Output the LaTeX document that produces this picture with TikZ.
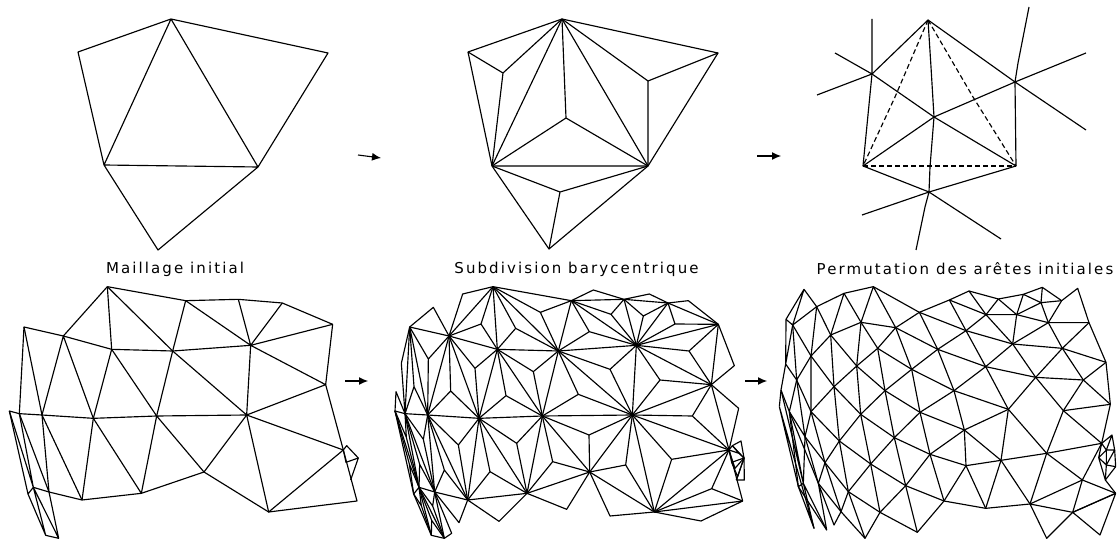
\documentclass[tikz,border=0pt]{standalone}
\usepackage{fontspec}
\usetikzlibrary{arrows.meta}
\newfontfamily\legendfont[LetterSpace=14]{DejaVu Sans}
% vertices and edges of the coarse mesh, used by both lower panels on the left
\newcommand{\basemesh}{%
  \foreach \n/\x/\y in {v1/322/20,v2/557/62,v3/715/58,v4/847/69,v5/998/133,v6/977/314,v7/1030/510,v8/1071/663,
    v9/806/696,v10/612/576,v11/424/640,v12/246/660,v13/147/636,v14/100/622,v15/190/168,v16/72/141,v17/58/401,
    v18/126/405,v19/280/415,v20/470/408,v21/740/405,v22/752/196,v23/518/213,v24/335/208,
    s1/28/393,s2/84/642,s3/137/766,s4/176/775,r1/1040/497,r2/1075/534,r3/1038/547,r4/1052/600}
    \coordinate (\n) at (\x,\y);
  \draw (v1)--(v2)--(v3)--(v4)--(v5)--(v6)--(v7)--(v8)--(v9)--(v10)--(v11)--(v12)--(v13)--(v14);
  \draw (v1)--(v15)--(v16)--(v17)--(v13);
  \draw (v1)--(v24)--(v19)--(v12);
  \draw (v1)--(v23)--(v21)--(v9)--(v7)--(v21);
  \draw (v15)--(v24)--(v23)--(v22)--(v21)--(v6)--(v22)--(v5);
  \draw (v2)--(v23)--(v20)--(v11)--(v19)--(v15)--(v18)--(v12);
  \draw (v2)--(v22)--(v3) (v22)--(v4);
  \draw (v16)--(v18)--(v17)--(v14)--(s1)--(v17);
  \draw (v18)--(v13)--(s4)--(v14)--(s2)--(s1) (s2)--(s3)--(s4) (s3)--(v14);
  \draw (v18)--(v19)--(v20)--(v21)--(v10)--(v20)--(v24);
  \draw (v7)--(r1)--(r2)--(r4) (r2)--(r3)--(v7);
}
\tikzset{
  mesh/.style={line width=1.15bp, line join=round},
  legend/.style={font=\legendfont\fontsize{15bp}{17bp}\selectfont, anchor=base},
  steparrow/.style={line width=1.1bp, -{Latex[length=9bp,width=8bp]}},
  hidden/.style={dash pattern=on 5bp off 3bp},
  lowerpanel/.style={yshift=-280bp, scale=1/3}
}
\begin{document}
\begin{tikzpicture}[x=1bp,y=-1bp,mesh]
\useasboundingbox (0,0) rectangle (1117,540);

% top left
\foreach \n/\x/\y in {a/171/19,b/328/53,c/258/167,d/104/165,e/78/52,f/158/250}
  \coordinate (\n) at (\x,\y);
\draw (a)--(b)--(c)--(d)--(e)--(a)--(d)--(f)--(c)--(a);
\node[legend] (initial) at (175,274) {Maillage initial};

% top middle
\foreach \n/\x/\y in {a/562/19,b/718/53,c/648/166,d/492/166,e/468/52,f/549/249,g/503/73,h/566/118,i/648/81,j/560/192}
  \coordinate (\n) at (\x,\y);
\draw (a)--(b)--(c)--(d)--(e)--(a)--(d)--(f)--(c)--(a);
\draw (e)--(g)--(a) (g)--(d);
\draw (a)--(h)--(c) (h)--(d);
\draw (a)--(i)--(b) (i)--(c);
\draw (d)--(j)--(c) (j)--(f);
\node[legend] (barycentre) at (576.5,274) {Subdivision barycentrique};

% top right
\foreach \n/\x/\y in {t/928/20,p/872/74,q/1015/82,m/934/117,l/863/166,r/1016/166,u/929/192,
    pa/872/19,pb/835/53,pc/817/95,qa/1029/7,qb/1086/53,qc/1086/130,ua/862/215,ub/916/250,uc/1001/239}
  \coordinate (\n) at (\x,\y);
\draw (t)--(p)--(l)--(u)--(r)--(q)--(t);
\draw (t)--(931,67)--(m)--(930,167)--(u);
\draw (pa)--(p) (pb)--(p)--(m)--(r) (pc)--(p);
\draw (qa)--(1018,63)--(q) (qb)--(q)--(qc) (q)--(m)--(l);
\draw (ua)--(u)--(925,207)--(ub) (u)--(uc);
\draw[hidden] (l)--(r);
\draw[hidden] (t)--(895,97)--(l);
\draw[hidden] (t)--(973,97)--(r);
\node[legend] (permutation) at (965,275) {Permutation des arêtes initiales};

% arrows
\foreach \n/\xa/\ya/\xb/\yb in {one/358/155/381/158,two/757/156/781/156,three/345/381/368/381,four/745/381/767/381}{
  \coordinate (\n from) at (\xa,\ya);
  \coordinate (\n to) at (\xb,\yb);
  \draw[steparrow] (\n from) -- (\n to);
}

% bottom left
\begin{scope}[lowerpanel, name prefix=coarse-]
\basemesh
\end{scope}

% bottom middle
\begin{scope}[xshift=385.67bp, lowerpanel, name prefix=fine-]
\basemesh
\foreach \x/\y/\a/\b/\c in {286/132/v1/v15/v24,390/145/v1/v24/v23,464/97/v1/v23/v2,611/155/v2/v23/v22,676/103/v2/v3/v22,
    773/108/v3/v4/v22,868/132/v4/v5/v22,910/213/v5/v22/v6,823/300/v6/v21/v22,673/268/v22/v21/v23,920/408/v6/v7/v21,
    858/538/v7/v9/v21,978/626/v7/v8/v9,720/555/v9/v10/v21,610/465/v10/v20/v21,578/343/v20/v21/v23,443/275/v23/v24/v20,
    268/265/v24/v15/v19,361/347/v24/v19/v20,195/333/v15/v18/v19,128/237/v15/v16/v18,85/320/v16/v17/v18,218/495/v18/v19/v12,
    393/490/v19/v20/v11,313/575/v19/v11/v12,501/545/v20/v10/v11,176/570/v18/v13/v12,113/478/v17/v18/v13,
    102/553/v17/v14/v13,62/472/v14/s1/v17,71/552/s1/s2/v14,107/677/v14/s2/s3,138/721/v14/s3/s4,141/678/v14/v13/s4,
    1048/565/v7/r2/r3,1060/520/v7/r1/r2,1056/590/r2/r3/r4}{
  \coordinate (g) at (\x,\y);
  \draw (\a)--(g)--(\b) (g)--(\c);
}
\foreach \x/\y/\a/\b in {231/42/v1/v15,623/30/v2/v3,791/42/v3/v4,908/62/v4/v5,1046/257/v5/v6,1059/385/v6/v7,946/723/v8/v9,
    673/708/v9/v10,543/688/v10/v11,340/724/v11/v12,220/728/v12/v13,143/82/v15/v16,47/250/v16/v17,31/335/s1/v17,
    198/760/v13/s4,1066/483/r1/r2,1076/600/r2/r4}{
  \coordinate (g) at (\x,\y);
  \draw (\a)--(g)--(\b);
}
\end{scope}

% bottom right
\begin{scope}[xshift=750bp, lowerpanel]
\foreach \n/\x/\y in {p1/162/28,p2/282/40,p3/370/20,p4/508/97,p5/598/60,p6/657/33,p7/745/57,p8/820/43,p9/877/22,p10/935/62,
    p11/983/25,p12/1017/128,p13/1068/247,p14/1081/373,p15/1055/490,p16/108/118,p17/128/135,p18/200/80,p19/242/165,p20/333/127,
    p21/437/143,p22/383/205,p23/563/208,p24/648/152,p25/708/104,p26/800/104,p27/895/128,p28/873/68,p29/788/192,p30/937/205,
    p31/707/260,p32/485/268,p33/320/258,p34/183/228,p35/140/300,p36/107/252,p37/93/330,p38/88/380,p39/183/395,p40/252/320,
    p41/405/332,p42/612/332,p43/857/292,p44/1000/300,p45/775/388,p46/940/392,p47/510/397,p48/332/403,p49/643/450,p50/433/473,
    p51/268/483,p52/165/470,p53/118/395,p54/540/523,p55/648/557,p56/753/541,p57/890/520,p58/362/552,p59/225/548,p60/467/617,
    p61/582/663,p62/707/685,p63/840/672,p64/997/600,p65/968/697,p66/1097/640,p67/295/635,p68/390/697,p69/205/610,p70/502/757,
    p71/345/775,p72/890/775,p73/1050/765,p74/273/695,p75/230/750,p76/252/735,p77/192/745,p78/145/620,p79/160/610,
    q1/1086/465,q2/1046/533,q3/1094/510,q4/1069/510,q5/1069/555,q6/1066/600,q7/1097/560}
  \coordinate (\n) at (\x,\y);
\draw (p67)--(p58)--(p50)--(p47)--(p42)--(p31)--(p29)--(p27)--(p10)--(p11)--(p12)--(p13)--(p14)--(p15);
\draw (p51)--(p48)--(p41)--(p32)--(p23)--(p24)--(p25)--(p7);
\draw (p39)--(p40)--(p33)--(p22)--(p21)--(p4)--(p5)--(p6)--(p7)--(p8)--(p9)--(p10);
\draw (p60)--(p54)--(p49)--(p45)--(p43)--(p30)--(p12);
\draw (p63)--(p57)--(p46)--(p44)--(p13);
\draw (p17)--(p34)--(p40)--(p48)--(p50)--(p54)--(p55)--(p61);
\draw (p18)--(p19)--(p33)--(p41)--(p47)--(p49)--(p56)--(p63);
\draw (p20)--(p22)--(p32)--(p42)--(p45)--(p57)--(p64)--(p66);
\draw (p21)--(p23)--(p31)--(p43)--(p44)--(p14);
\draw (p4)--(p24)--(p29)--(p30)--(p13);
\draw (p5)--(p25)--(p26)--(p27)--(p12);
\draw (p39)--(p51)--(p58)--(p60)--(p61)--(p62)--(p63)--(p65)--(p66);
\draw (p52)--(p59)--(p67)--(p68)--(p70)--(p61);
\draw (p18)--(p34)--(p39)--(p52);
\draw (p2)--(p19)--(p40)--(p51)--(p67)--(p71)--(p68)--(p60);
\draw (p20)--(p33)--(p48)--(p58)--(p68);
\draw (p22)--(p41)--(p50)--(p60)--(p70);
\draw (p21)--(p32)--(p47)--(p54)--(p61);
\draw (p4)--(p23)--(p42)--(p49)--(p55)--(p62);
\draw (p5)--(p24)--(p31)--(p45)--(p56)--(p62);
\draw (p6)--(p25)--(p29)--(p43)--(p46)--(p15);
\draw (p7)--(p26)--(p29);
\draw (p27)--(p30)--(p44);
\draw (p46)--(p14);
\draw (p1)--(p16)--(p17)--(p1)--(p18)--(p17);
\draw (p18)--(p2)--(p3)--(p4);
\draw (p2)--(p20)--(p3)--(p21)--(p20)--(p19)--(p34)--(p35)--(p17);
\draw (p8)--(p26)--(p28)--(p10) (p8)--(p28)--(p9) (p28)--(p27);
\draw (p16)--(p36)--(p17) (p36)--(p37)--(p38) (p36)--(p35)--(p39) (p35)--(p53)--(p37);
\draw (p38)--(p78)--(p77)--(p38);
\draw (p53)--(p78)--(p75)--(p69)--(p76)--(p74);
\draw (p53)--(p52)--(p69)--(p74)--(p71) (p35)--(p52);
\draw (p53)--(p69)--(p59)--(p74)--(p67) (p59)--(p51);
\draw (p37)--(p79)--(p52) (p53)--(p79)--(p77) (p79)--(p75) (p79)--(p78) (p39)--(p59);
\draw (p55)--(p56)--(p57);
\draw (p64)--(p15)--(p57);
\draw (p64)--(p65) (p63)--(p64) (p63)--(p72)--(p65)--(p73)--(p66) (p65)--(p66);
% cluster on the right edge
\draw (p15)--(q1)--(q3) (q1)--(q4)--(p15)--(q2)--(q4)--(q3)--(q5)--(q4) (q2)--(q5)--(q6)--(q2);
\draw (q5)--(q7)--(q6)--(p66) (q3)--(q7);
\end{scope}
\end{tikzpicture}
\end{document}
